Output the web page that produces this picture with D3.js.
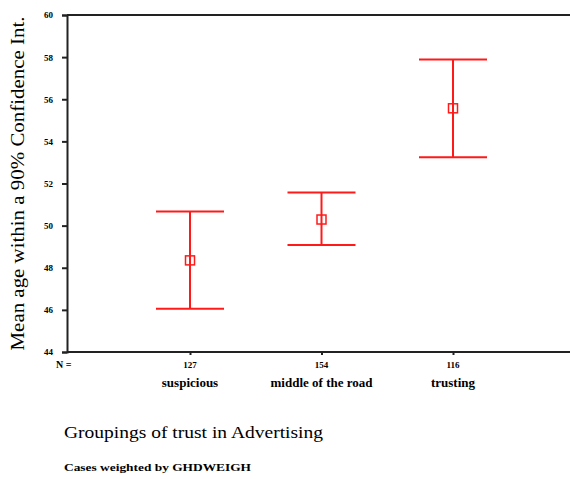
<!DOCTYPE html>
<meta charset="utf-8">
<style>
    body { margin: 0; background: #fff; }
    text { font-family: "Liberation Serif", "DejaVu Serif", serif; }
    .tick text { font-size: 9px; font-weight: bold; }
</style>
<svg width="570" height="479"></svg>
<script src="https://d3js.org/d3.v7.min.js"></script>
<script>

    var groups = ["suspicious", "middle of the road", "trusting"];
    var counts = ["127", "154", "116"];
    var means = [48.35, 50.29, 55.57];
    var lower = [46.05, 49.08, 53.25];
    var upper = [50.67, 51.57, 57.89];
    var yTicks = [44, 46, 48, 50, 52, 54, 56, 58, 60];

    var svg = d3.select("svg");
    var red = "#ff1a1a";

    var x = d3.scaleLinear()
        .domain([0, 4])
        .range([58.5, 584.5]);

    var y = d3.scaleLinear()
        .domain([44, 60])
        .range([352, 15]);

    // frame: top + bottom lines running to the edge
    svg.append("path")
        .attr("d", "M67," + y(60) + "H570M67," + y(44) + "H570")
        .attr("stroke", "#222")
        .attr("stroke-width", 2)
        .attr("fill", "none");

    var yAxis = svg.append("g")
        .attr("transform", "translate(67,0)")
        .call(d3.axisLeft(y).tickValues(yTicks).tickSize(5).tickPadding(9));
    yAxis.select(".domain").attr("stroke", "#222").attr("stroke-width", 2);
    yAxis.selectAll(".tick line").attr("stroke", "#222").attr("stroke-width", 2);

    var xAxis = svg.append("g")
        .attr("transform", "translate(0," + y(44) + ")")
        .call(d3.axisBottom(x).tickValues([1, 2, 3]).tickSize(3).tickFormat(""));
    xAxis.select(".domain").remove();
    xAxis.selectAll(".tick line").attr("stroke", "#222").attr("stroke-width", 2);

    // N counts + category names
    svg.append("text")
        .attr("x", 56).attr("y", 368)
        .attr("font-size", 10).attr("font-weight", "bold")
        .text("N =");

    svg.selectAll(".nlab")
        .data(counts)
        .enter().append("text")
        .attr("class", "nlab")
        .attr("x", function(d, i) { return x(i + 1); })
        .attr("y", 368)
        .attr("text-anchor", "middle")
        .attr("font-size", 9).attr("font-weight", "bold")
        .text(function(d) { return d; });

    svg.selectAll(".glab")
        .data(groups)
        .enter().append("text")
        .attr("class", "glab")
        .attr("x", function(d, i) { return x(i + 1); })
        .attr("y", 387)
        .attr("text-anchor", "middle")
        .attr("font-size", 13).attr("font-weight", "bold")
        .text(function(d) { return d; });

    // error bars
    var bars = svg.selectAll(".bar")
        .data(groups)
        .enter().append("g")
        .attr("class", "bar")
        .attr("stroke", red)
        .attr("stroke-width", 2)
        .attr("fill", "none");

    bars.append("line")
        .attr("x1", function(d, i) { return x(i + 1); })
        .attr("x2", function(d, i) { return x(i + 1); })
        .attr("y1", function(d, i) { return y(upper[i]); })
        .attr("y2", function(d, i) { return y(lower[i]); });
    bars.append("line")
        .attr("x1", function(d, i) { return x(i + 1) - 34; })
        .attr("x2", function(d, i) { return x(i + 1) + 34; })
        .attr("y1", function(d, i) { return y(upper[i]); })
        .attr("y2", function(d, i) { return y(upper[i]); });
    bars.append("line")
        .attr("x1", function(d, i) { return x(i + 1) - 34; })
        .attr("x2", function(d, i) { return x(i + 1) + 34; })
        .attr("y1", function(d, i) { return y(lower[i]); })
        .attr("y2", function(d, i) { return y(lower[i]); });
    bars.append("rect")
        .attr("x", function(d, i) { return x(i + 1) - 4.5; })
        .attr("y", function(d, i) { return y(means[i]) - 4.5; })
        .attr("width", 9)
        .attr("height", 9)
        .attr("stroke-width", 1.5);

    // titles
    svg.append("text")
        .attr("transform", "translate(24," + (y(52)) + ") rotate(-90)")
        .attr("text-anchor", "middle")
        .attr("font-size", 19)
        .attr("textLength", 334)
        .attr("lengthAdjust", "spacingAndGlyphs")
        .text("Mean age within a 90% Confidence Int.");

    svg.append("text")
        .attr("x", 64).attr("y", 438)
        .attr("font-size", 17)
        .attr("textLength", 259)
        .attr("lengthAdjust", "spacingAndGlyphs")
        .text("Groupings of trust in Advertising");

    svg.append("text")
        .attr("x", 64).attr("y", 471)
        .attr("font-size", 11).attr("font-weight", "bold")
        .attr("textLength", 187)
        .attr("lengthAdjust", "spacingAndGlyphs")
        .text("Cases weighted by GHDWEIGH");

</script>
